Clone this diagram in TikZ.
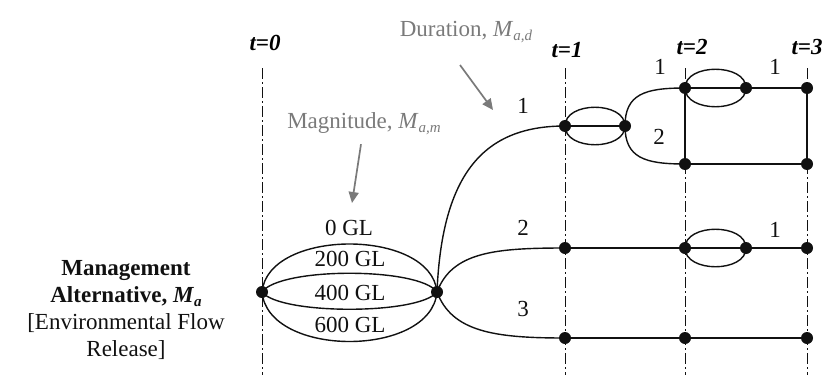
\documentclass[tikz,border=0pt]{standalone}
\usepackage{fontspec}
\setmainfont{Liberation Serif}
\usetikzlibrary{arrows.meta,calc}
\definecolor{ink}{HTML}{111111}
\definecolor{note}{HTML}{7A7A7A}

\newcommand{\Msub}[1]{\textit{M}\raisebox{-0.35ex}{\fontsize{15}{15}\selectfont\textit{#1}}}

\begin{document}
\begin{tikzpicture}[x=1pt,y=-1pt,
  txt/.style={font=\fontsize{23}{27}\selectfont,inner sep=1pt,text=ink},
  stagelbl/.style={font=\fontsize{23}{27}\selectfont\bfseries\itshape,inner sep=0pt},
  notelbl/.style={txt,text=note},
  timeline/.style={ink,line width=1pt,dash pattern=on 11pt off 3pt on 2pt off 3pt},
  branch/.style={ink,line width=1.4pt},
  pointer/.style={note,line width=1.7pt,-{Triangle[length=11pt,width=10pt]}}]
\useasboundingbox (0,0) rectangle (826,375);

% time stages
\foreach \tt/\xx/\lx/\ly in {0/262/265/43,1/565/567/50,2/685/692/47,3/807/807/47}{
  \draw[timeline] (\xx,68) -- (\xx,375);
  \node[stagelbl] (t\tt) at (\lx,\ly) {t=\tt};
}

% decision points
\coordinate (a0) at (262,292);
\coordinate (a1) at (437,292);
\coordinate (b1) at (565,126);
\coordinate (c1) at (625,126);
\coordinate (b2) at (565,248);
\coordinate (b3) at (565,338);
\coordinate (d1) at (685,88);
\coordinate (e1) at (746,88);
\coordinate (d2) at (685,164);
\coordinate (d3) at (685,248);
\coordinate (e3) at (746,248);
\coordinate (d4) at (685,338);
\coordinate (f1) at (807,88);
\coordinate (f2) at (807,164);
\coordinate (f3) at (807,248);
\coordinate (f4) at (807,338);

% magnitude options
\draw[branch] (a0) .. controls +(6,-64) and +(-6,-64) .. (a1);
\draw[branch] (a0) .. controls +(18,-25) and +(-18,-25) .. (a1);
\draw[branch] (a0) .. controls +(18,23) and +(-18,23) .. (a1);
\draw[branch] (a0) .. controls +(6,66) and +(-6,66) .. (a1);
\node[txt] (m0) at (349,228) {0 GL};
\node[txt] (m200) at (350,259) {200 GL};
\node[txt] (m400) at (350,293) {400 GL};
\node[txt] (m600) at (350,325) {600 GL};

% durations
\draw[branch] (a1) .. controls +(5,-120) and +(-80,0) .. (b1);
\draw[branch] (a1) .. controls +(15,-40) and +(-70,0) .. (b2);
\draw[branch] (a1) .. controls +(15,40) and +(-70,0) .. (b3);
\node[txt] (n1) at (523,106) {1};
\node[txt] (n2) at (523,228) {2};
\node[txt] (n3) at (523,309) {3};

\draw[branch] (b1) -- (c1);
\draw[branch] (b1) .. controls +(0,-25) and +(0,-25) .. (c1);
\draw[branch] (b1) .. controls +(0,25) and +(0,25) .. (c1);
\draw[branch] (c1) .. controls +(0,-32) and +(-40,0) .. (d1);
\draw[branch] (c1) .. controls +(0,32) and +(-40,0) .. (d2);
\node[txt] (p1) at (660,67) {1};
\node[txt] (p2) at (659,137) {2};

\draw[branch] (d1) -- (e1) -- (f1);
\draw[branch] (d1) .. controls +(0,-25) and +(0,-25) .. (e1);
\draw[branch] (d1) .. controls +(0,25) and +(0,25) .. (e1);
\draw[branch] (d1) -- (d2);
\draw[branch] (f1) -- (f2);
\draw[branch] (d2) -- (f2);
\node[txt] (q1) at (775,67) {1};

\draw[branch] (b2) -- (d3) -- (e3) -- (f3);
\draw[branch] (d3) .. controls +(0,-25) and +(0,-25) .. (e3);
\draw[branch] (d3) .. controls +(0,25) and +(0,25) .. (e3);
\node[txt] (q2) at (775,230) {1};

\draw[branch] (b3) -- (d4) -- (f4);

\foreach \p in {a0,a1,b1,c1,b2,b3,d1,e1,d2,d3,e3,d4,f1,f2,f3,f4}
  \fill[ink] (\p) circle (6pt);

% annotations
\node[notelbl] (mag) at (364,124) {Magnitude, \Msub{a,m}};
\node[notelbl] (dur) at (466,32) {Duration, \Msub{a,d}};
\draw[pointer] (mag.south) ++(-3,8) coordinate (magtail) -- (352,203) coordinate (magtip);
\draw[pointer] (460,65) coordinate (durtail) -- (493,110) coordinate (durtip);

\node[txt,align=center] (alt) at (126,310) {\textbf{Management}\\\textbf{Alternative, \Msub{a}}\\{[}Environmental Flow\\Release{]}};
\end{tikzpicture}
\end{document}
